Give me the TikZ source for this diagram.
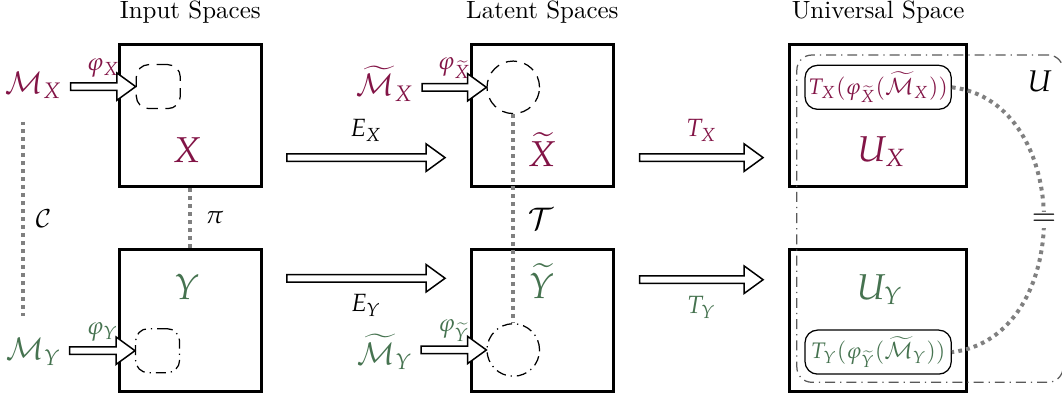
\documentclass[tikz,border=0pt]{standalone}
\usepackage{amsmath,amssymb}
\usepackage{mathpazo}
\usepackage{xcolor}
\usepackage{tikz}
\usetikzlibrary{arrows.meta,positioning,shapes.arrows,calc}
\definecolor{spred}{RGB}{130,20,70}
\definecolor{spgreen}{RGB}{70,115,80}

\begin{document}
\begin{tikzpicture}[
  space/.style={draw, rectangle, line width=1.2pt, minimum width=2cm, minimum height=2cm},
  sub/.style={draw, rectangle, rounded corners=5pt, minimum width=0.62cm, minimum height=0.62cm, line width=0.5pt},
  blob/.style={draw, circle, minimum size=0.74cm, line width=0.5pt},
  img/.style={draw, rectangle, rounded corners=5pt, minimum width=2.06cm, minimum height=0.62cm, inner sep=1pt, line width=0.5pt, font=\small},
  link/.style={draw=black!50, line width=1.6pt, dash pattern=on 1.5pt off 1.7pt},
  dsh/.style={dash pattern=on 4.5pt off 3pt},
  dshdot/.style={dash pattern=on 4pt off 2pt on 0.5pt off 2pt},
  fat/.style={to path={-- (\tikztotarget) \tikztonodes
    let \p1=(\tikztostart), \p2=(\tikztotarget) in
    node[single arrow, draw, fill=white, line width=0.6pt, inner sep=1.2pt, outer sep=0pt,
         minimum width=0pt, minimum height=\x2-\x1, single arrow head extend=0.14cm,
         single arrow tip angle=72, anchor=tail] at (\p1) {}}},
]
\useasboundingbox (0,0) rectangle (14.96,5.62);
% spaces
\node[space] (bx) at (2.68,3.99) {};
\node[space] (by) at (2.68,1.11) {};
\node[space] (lx) at (7.64,3.99) {};
\node[space] (ly) at (7.64,1.11) {};
\node[space, minimum width=2.5cm] (ux) at (12.37,3.99) {};
\node[space, minimum width=2.5cm] (uy) at (12.37,1.11) {};
\node[above=0.15cm of bx] (tin) {Input Spaces};
\node[above=0.15cm of lx] (tlat) {Latent Spaces};
\node[above=0.15cm of ux] (tuni) {Universal Space};
% joint space U
\node[draw=black!65, dshdot, line width=0.5pt, rounded corners=6pt, minimum width=3.75cm, minimum height=4.61cm] (U) at (13.1,2.54) {};
\node[font=\large] (ul) at (14.65,4.47) {$U$};
% space labels
\node[text=spred, font=\Large] (nx) at (2.63,3.51) {$X$};
\node[text=spgreen, font=\Large] (ny) at (2.63,1.58) {$Y$};
\node[text=spred, font=\Large] (nlx) at (7.63,3.51) {$\widetilde{X}$};
\node[text=spgreen, font=\Large] (nly) at (7.63,1.66) {$\widetilde{Y}$};
\node[text=spred, font=\Large] (nux) at (12.42,3.48) {$U_X$};
\node[text=spgreen, font=\Large] (nuy) at (12.39,1.54) {$U_Y$};
% subsets
\node[sub, dsh] (sx) at (2.23,4.40) {};
\node[sub, dshdot] (sy) at (2.22,0.68) {};
\node[blob, dsh] (cx) at (7.23,4.39) {};
\node[blob, dshdot] (cy) at (7.23,0.69) {};
\node[img, text=spred] (tx) at (12.37,4.39) {$T_X(\varphi_{\widetilde{X}}(\widetilde{\mathcal{M}}_X))$};
\node[img, text=spgreen] (ty) at (12.37,0.66) {$T_Y(\varphi_{\widetilde{Y}}(\widetilde{\mathcal{M}}_Y))$};
% manifolds
\node[text=spred, font=\large] (mx) at (0.47,4.42) {$\mathcal{M}_X$};
\node[text=spgreen, font=\large] (my) at (0.47,0.66) {$\mathcal{M}_Y$};
\node[text=spred, font=\large] (mtx) at (5.42,4.44) {$\widetilde{\mathcal{M}}_X$};
\node[text=spgreen, font=\large] (mty) at (5.42,0.66) {$\widetilde{\mathcal{M}}_Y$};
% maps
\path (sx.west -| mx.east) to[fat] node[above, text=spred] {$\varphi_X$} (sx.west);
\path (sy.west -| my.east) to[fat] node[above, text=spgreen] {$\varphi_Y$} (sy.west);
\path (cx.west -| mtx.east) to[fat] node[above, text=spred] {$\varphi_{\widetilde{X}}$} (cx.west);
\path (cy.west -| mty.east) to[fat] node[above, text=spgreen] {$\varphi_{\widetilde{Y}}$} (cy.west);
\path ([xshift=0.34cm,yshift=-0.59cm]bx.east) to[fat] node[above=3pt] {$E_X$} ([xshift=-0.35cm,yshift=-0.59cm]lx.west);
\path ([xshift=0.34cm,yshift=0.59cm]by.east) to[fat] node[below=3pt] {$E_Y$} ([xshift=-0.35cm,yshift=0.59cm]ly.west);
\path ([xshift=0.35cm,yshift=-0.59cm]lx.east) to[fat] node[above=3pt, text=spred] {$T_X$} ([xshift=-0.35cm,yshift=-0.59cm]ux.west);
\path ([xshift=0.35cm,yshift=0.57cm]ly.east) to[fat] node[below=3pt, text=spgreen] {$T_Y$} ([xshift=-0.35cm,yshift=0.57cm]uy.west);
% correspondences
\draw[link] ([xshift=-0.15cm,yshift=-0.2cm]mx.south) -- node[right=1pt] (lc) {$\mathcal{C}$} ([xshift=-0.15cm,yshift=0.2cm]my.north);
\draw[link] (bx.south) -- node[right=2pt] (lpi) {$\pi$} (by.north);
\draw[link] (cx.south) -- node[right=2pt, font=\large] (lt) {$\mathcal{T}$} (cy.north);
\draw[link] (tx.east) .. controls +(1.73,-0.2) and +(1.73,0.2) .. (ty.east) node[pos=0.5, fill=white, inner sep=1pt, font=\large] (eq) {$=$};
\end{tikzpicture}
\end{document}
